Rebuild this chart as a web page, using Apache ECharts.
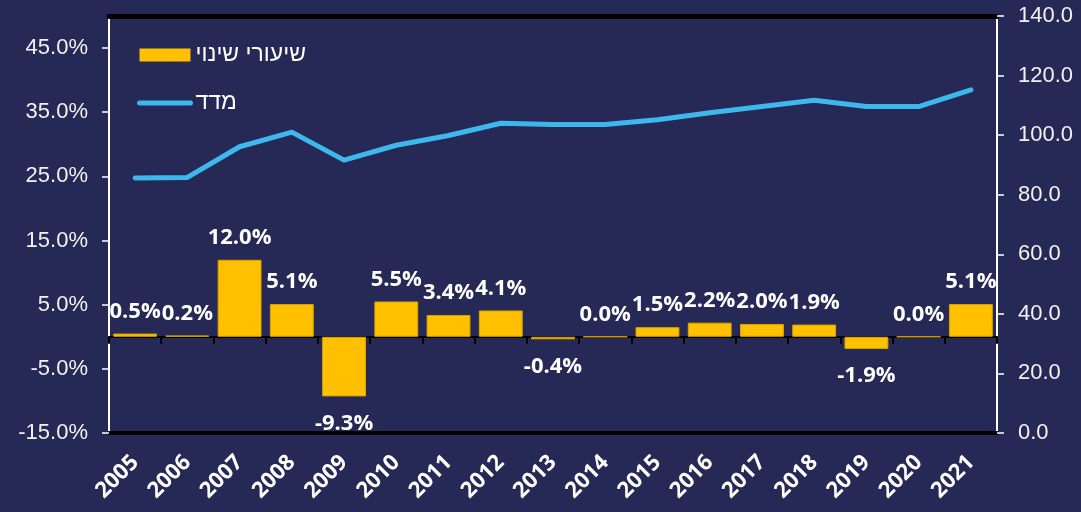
<!DOCTYPE html>
<html>
<head>
<meta charset="utf-8">
<script src="https://cdn.jsdelivr.net/npm/echarts@6/dist/echarts.min.js"></script>
<style>
html,body{margin:0;padding:0;background:#262855;}
#chart{width:1081px;height:512px;}
</style>
</head>
<body>
<div id="chart"></div>
<script>
const years = ['2005','2006','2007','2008','2009','2010','2011','2012','2013','2014','2015','2016','2017','2018','2019','2020','2021'];
const changeRates = [0.5, 0.2, 12.0, 5.1, -9.3, 5.5, 3.4, 4.1, -0.4, 0.0, 1.5, 2.2, 2.0, 1.9, -1.9, 0.0, 5.1];
const indexValues = [85.6, 85.8, 96.1, 101.0, 91.6, 96.6, 99.9, 104.0, 103.6, 103.6, 105.2, 107.5, 109.6, 111.7, 109.6, 109.6, 115.2];
const barName = 'שיעורי שינוי';
const lineName = 'מדד';

const labelFont = { color: '#ffffff', fontFamily: 'Open Sans', fontWeight: 'bold', fontSize: 22 };
const axisFont = { color: '#f2f2f2', fontFamily: 'Liberation Sans', fontSize: 22 };

const barData = changeRates.map(v => ({
  value: v,
  label: v < 0 ? { position: 'bottom', distance: 16 } : { position: 'top', distance: 11 }
}));

const chart = echarts.init(document.getElementById('chart'), null, { renderer: 'canvas' });
chart.setOption({
  animation: false,
  backgroundColor: '#262855',
  grid: { left: 109, right: 84, top: 16, bottom: 79, containLabel: false },
  legend: {
    left: 132, top: 38, orient: 'vertical', itemWidth: 51, itemHeight: 13, itemGap: 24,
    textStyle: { color: '#ffffff', fontFamily: 'Liberation Sans', fontSize: 23, lineHeight: 24 },
    data: [
      { name: barName, icon: 'rect', itemStyle: { borderWidth: 0, borderColor: '#FFC000', color: '#FFC000' } },
      { name: lineName, itemStyle: { opacity: 0 }, lineStyle: { width: 5, cap: 'round', color: '#3DB8EC' } }
    ]
  },
  xAxis: [
    {
      type: 'category', data: years, position: 'bottom',
      axisLine: { onZero: false, lineStyle: { color: '#000000', width: 4 } },
      axisTick: { show: false },
      axisLabel: Object.assign({ rotate: 45, margin: 26, interval: 0 }, labelFont)
    },
    {
      type: 'category', data: years, position: 'bottom',
      axisLine: { onZero: true, onZeroAxisIndex: 0, lineStyle: { color: '#000000', width: 2 } },
      axisTick: { show: true, length: 7, lineStyle: { color: '#000000', width: 2 } },
      axisLabel: { show: false }
    },
    {
      type: 'category', data: years, position: 'top',
      axisLine: { onZero: false, lineStyle: { color: '#000000', width: 5 } },
      axisTick: { show: false },
      axisLabel: { show: false }
    }
  ],
  yAxis: [
    {
      type: 'value', min: -15, max: 50, interval: 10, position: 'left',
      splitLine: { show: false },
      axisLine: { show: true, lineStyle: { color: '#ffffff', width: 2 } },
      axisTick: { show: true, length: 7, lineStyle: { color: '#ffffff', width: 1.5 } },
      axisLabel: Object.assign({ margin: 21, showMaxLabel: false, formatter: v => v.toFixed(1) + '%' }, axisFont)
    },
    {
      type: 'value', min: 0, max: 140, interval: 20, position: 'right',
      splitLine: { show: false },
      axisLine: { show: true, lineStyle: { color: '#ffffff', width: 2 } },
      axisTick: { show: true, length: 7, lineStyle: { color: '#ffffff', width: 1.5 } },
      axisLabel: Object.assign({ margin: 21, formatter: v => v.toFixed(1) }, axisFont)
    }
  ],
  series: [
    {
      name: barName, type: 'bar', xAxisIndex: 0, yAxisIndex: 0,
      data: barData, barCategoryGap: '16%',
      itemStyle: { color: '#FFC000', borderColor: '#d9a400', borderWidth: 1 },
      label: Object.assign({ show: true, formatter: p => p.value.toFixed(1) + '%' }, labelFont)
    },
    {
      name: lineName, type: 'line', xAxisIndex: 0, yAxisIndex: 1,
      data: indexValues, showSymbol: false, symbol: 'none',
      lineStyle: { color: '#3DB8EC', width: 5, cap: 'round', join: 'round' },
      itemStyle: { color: '#3DB8EC' }
    }
  ]
});
</script>
</body>
</html>
